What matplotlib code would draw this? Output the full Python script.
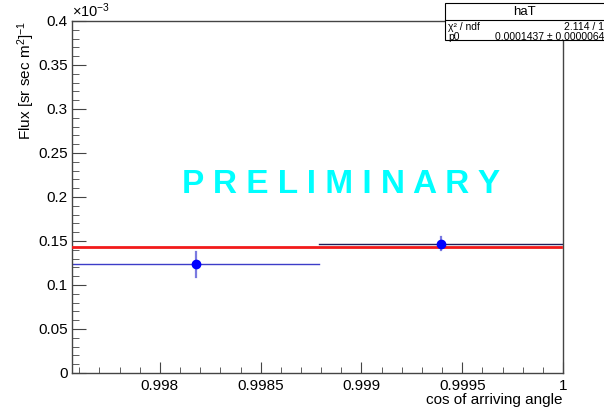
#!/usr/bin/env python3
"""Flux vs cos of arriving angle with constant fit (ROOT-style)."""

import matplotlib

matplotlib.use("Agg")

import matplotlib.pyplot as plt
from matplotlib.patches import Rectangle
from matplotlib.ticker import FuncFormatter, MultipleLocator

plt.rcParams["font.family"] = ["Liberation Sans", "DejaVu Sans"]
plt.rcParams["mathtext.fontset"] = "custom"
plt.rcParams["mathtext.rm"] = "Liberation Sans"
plt.rcParams["mathtext.it"] = "Liberation Sans:italic"

# data (flux in 1/(sr sec m^2))
bin_lo = [0.997564, 0.99879]
bin_hi = [0.99879, 1.0]
bin_center = [0.998177, 0.999395]
flux = [0.1235e-3, 0.1470e-3]
flux_err = [0.0142e-3, 0.0070e-3]

fit_p0 = 0.0001437
fit_p0_err = 0.0000064
fit_range = [0.997564, 0.99999]
chi2_text = "2.114 / 1"
hist_name = "haT"

W, H = 604, 407
fig = plt.figure(figsize=(W / 100, H / 100), dpi=100)
ax = fig.add_axes([72 / W, 1 - 373 / H, (563 - 72) / W, (373 - 21) / H])

ax.set_xlim(bin_lo[0], bin_hi[-1])
ax.set_ylim(0, 0.4e-3)

# fit line
ax.plot(fit_range, [fit_p0, fit_p0], color="#f21a1a", lw=2, zorder=3)

xerr_colors = ["#3c3cc8", "#1e1e5a"]
for lo, hi, xc, y, ye, c in zip(bin_lo, bin_hi, bin_center, flux, flux_err, xerr_colors):
    ax.plot([lo, hi], [y, y], color=c, lw=1, zorder=2)
    ax.plot([xc, xc], [y - ye, y + ye], color="#7a7ae0", lw=1.6, zorder=4)
    ax.plot(xc, y, "o", color="#0000ff", ms=6, zorder=5)

# axes style
for s in ax.spines.values():
    s.set_color("#444444")
    s.set_linewidth(1)
ax.xaxis.set_major_locator(MultipleLocator(0.0005))
ax.xaxis.set_minor_locator(MultipleLocator(0.0001))
ax.yaxis.set_major_locator(MultipleLocator(0.05e-3))
ax.yaxis.set_minor_locator(MultipleLocator(0.01e-3))
ax.xaxis.set_major_formatter(FuncFormatter(lambda v, p: f"{v:.4f}".rstrip("0").rstrip(".")))
ax.yaxis.set_major_formatter(FuncFormatter(lambda v, p: f"{v * 1e3:.2f}".rstrip("0").rstrip(".")))
ax.tick_params(axis="both", which="both", direction="in", colors="#444444", labelcolor="black",
               labelsize=11, top=False, right=False)
ax.tick_params(axis="y", which="major", length=10, pad=3)
ax.tick_params(axis="y", which="minor", length=5)
ax.tick_params(axis="x", which="major", length=8, pad=4)
ax.tick_params(axis="x", which="minor", length=4)

ax.set_xlabel("cos of arriving angle", fontsize=11, loc="right", labelpad=0)
ax.set_ylabel("Flux [sr sec m$^2$]$^{-1}$", fontsize=11, loc="top", labelpad=1)
ax.text(0.0, 1.003, r"$\times$10$^{-3}$", transform=ax.transAxes, fontsize=10.5,
        ha="left", va="bottom")

ax.text(0.548, 0.535, " ".join("PRELIMINARY"), transform=ax.transAxes, color="#00ffff",
        fontsize=24, fontweight="bold", ha="center", va="center")

# stats box
bx0, bx1 = 445 / W, 1.02
by_top, by_sep, by_bot = 1 - 3 / H, 1 - 20 / H, 1 - 40 / H
fig.patches.append(Rectangle((bx0, by_bot), bx1 - bx0, by_top - by_bot, transform=fig.transFigure,
                             facecolor="white", edgecolor="black", lw=0.8, zorder=10))
fig.lines.append(plt.Line2D([bx0, bx1], [by_sep, by_sep], transform=fig.transFigure,
                            color="black", lw=0.8, zorder=11))
fig.text(524 / W, 1 - 12 / H, hist_name, ha="center", va="center", fontsize=9.5, zorder=12)
fig.text(448 / W, 1 - 27.5 / H, "χ² / ndf", ha="left", va="center", fontsize=7.5, zorder=12)
fig.text(604 / W, 1 - 27.5 / H, chi2_text, ha="right", va="center", fontsize=7.5, zorder=12)
fig.text(448 / W, 1 - 36.5 / H, "p0", ha="left", va="center", fontsize=7.5, zorder=12)
fig.text(604 / W, 1 - 36.5 / H, f"{fit_p0:.7f} ± {fit_p0_err:.7f}", ha="right", va="center",
         fontsize=7.5, zorder=12)

fig.savefig("out.png", dpi=100)
